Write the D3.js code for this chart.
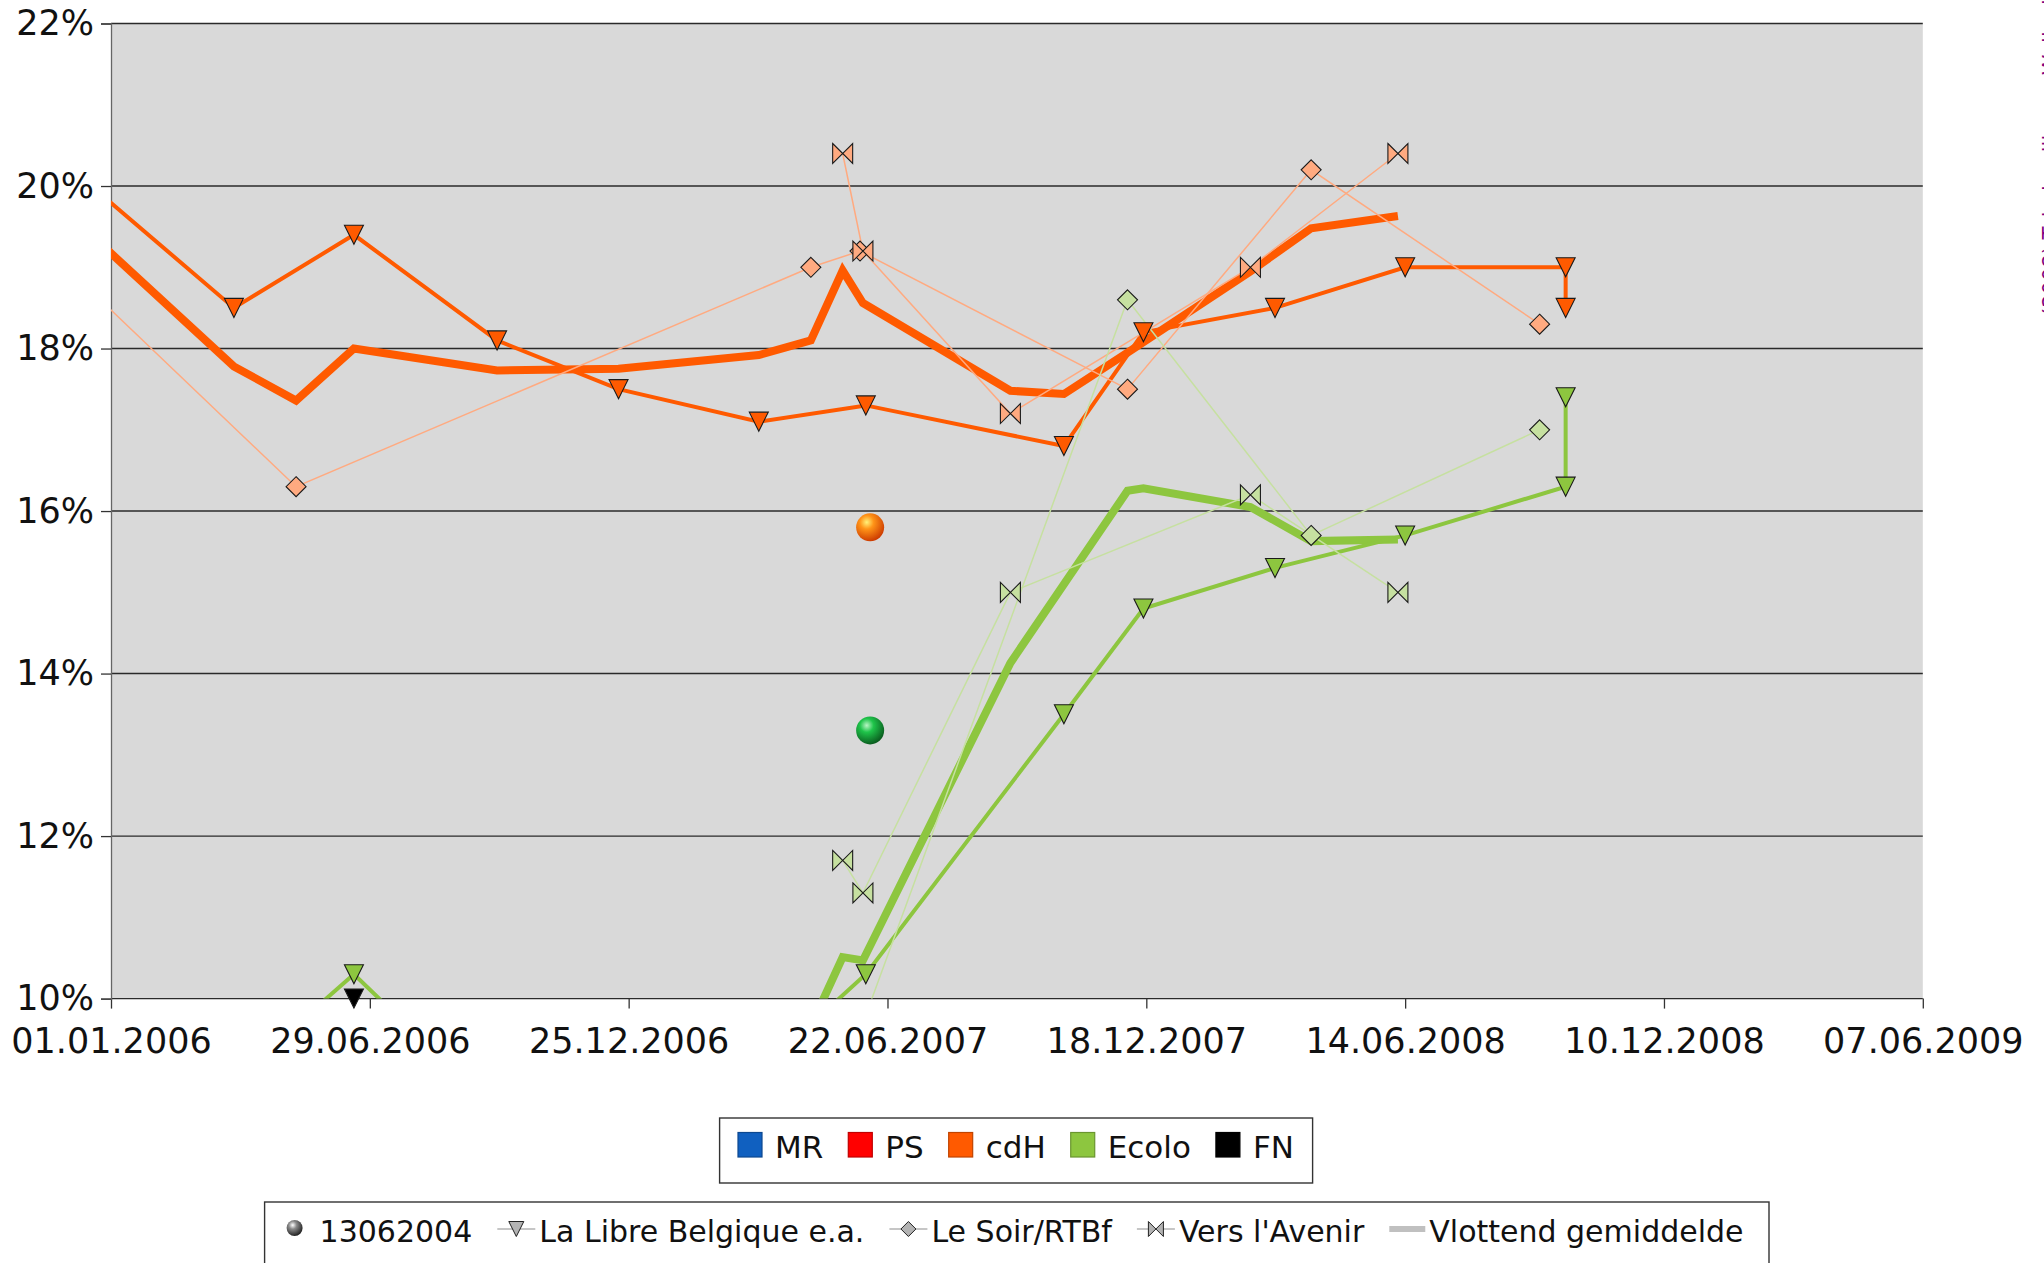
<!DOCTYPE html>
<html><head><meta charset="utf-8">
<script src="https://cdn.jsdelivr.net/npm/d3@7"></script>
<style>
body{margin:0;background:#fff}
svg{display:block}
text{font-family:"DejaVu Sans",sans-serif;fill:#111}
</style>
</head><body>
<svg id="chart" width="2044" height="1263"></svg>
<script>
// ---------- data ----------
const tickLabels = ["01.01.2006","29.06.2006","25.12.2006","22.06.2007","18.12.2007","14.06.2008","10.12.2008","07.06.2009"];
const yTickValues = [10,12,14,16,18,20,22];
const parties = ["MR","PS","cdH","Ecolo","FN"];
const sourceLabels = ["13062004","La Libre Belgique e.a.","Le Soir/RTBf","Vers l'Avenir","Vlottend gemiddelde"];

// La Libre Belgique e.a.
const libreDates = ["2005-11-22","2006-03-27","2006-06-18","2006-09-25","2006-12-18","2007-03-25","2007-06-07","2007-10-22","2007-12-16","2008-03-16","2008-06-14","2008-10-03","2008-10-03"];
const libreCdH   = [20.4,18.5,19.4,18.1,17.5,17.1,17.3,16.8,18.2,18.5,19.0,19.0,18.5];
const libreEcolo = [8.5,9.0,10.3,8.6,8.5,9.1,10.3,13.5,14.8,15.3,15.7,16.3,17.4];
const libreFNDates = ["2006-06-18"];
const libreFN      = [10.0];

// Le Soir/RTBf
const soirDates = ["2005-12-01","2006-05-09","2007-04-30","2007-06-03","2007-12-05","2008-04-10","2008-09-15"];
const soirCdH   = [19.0,16.3,19.0,19.2,17.5,20.2,18.3];
const soirEcolo = [8.5,8.7,9.0,9.6,18.6,15.7,17.0];

// Vers l'Avenir
const avenirDates = ["2007-05-22","2007-06-05","2007-09-15","2008-02-28","2008-06-09"];
const avenirCdH   = [20.4,19.2,17.2,19.0,20.4];
const avenirEcolo = [11.7,11.3,15.0,16.2,15.0];

// Vlottend gemiddelde
const avgCdHDates = ["2005-12-12","2006-03-27","2006-05-09","2006-06-18","2006-09-25","2006-12-18","2007-03-25","2007-04-30","2007-05-22","2007-06-05","2007-09-15","2007-10-22","2007-12-05","2008-02-28","2008-04-10","2008-06-09"];
const avgCdH      = [19.5,17.78,17.36,18.0,17.73,17.75,17.92,18.1,18.96,18.56,17.48,17.44,17.95,18.95,19.48,19.63];
const avgEcoloDates = ["2007-04-30","2007-05-22","2007-06-05","2007-09-15","2007-10-22","2007-12-05","2007-12-16","2008-02-28","2008-04-10","2008-06-09"];
const avgEcolo      = [9.66,10.51,10.47,14.13,15.1,16.25,16.28,16.05,15.63,15.65];

// 13062004
const electionDates = ["2007-06-10"];
const electionCdH   = [15.8];
const electionEcolo = [13.3];

const sideNote = "(2008) Tabel peilingen Wallonië";

// ---------- style ----------
const partyColor = {MR:"#1060c0", PS:"#ff0000", cdH:"#ff5a00", Ecolo:"#8dc63f", FN:"#000000"};
const lightColor = {cdH:"#ffaa80", Ecolo:"#c6e0a0"};
const FONT_AXIS = 35, FONT_LEG1 = 31, FONT_LEG2 = 30;

const svg = d3.select("#chart");
const P = {left:111, right:1922.8, top:23.5, bottom:998.6};
const parseTick = d3.utcParse("%d.%m.%Y"), parseISO = d3.utcParse("%Y-%m-%d");
const tickDates = tickLabels.map(parseTick);

const x = d3.scaleUtc().domain([tickDates[0], tickDates[tickDates.length-1]]).range([P.left, P.right]);
const y = d3.scaleLinear().domain([10,22]).range([P.bottom, P.top]);

const zip = (ds, vs) => ds.map((d,i)=>({date:parseISO(d), v:vs[i]}));

// defs
const defs = svg.append("defs");
defs.append("clipPath").attr("id","plotclip").append("rect")
  .attr("x",P.left).attr("y",P.top).attr("width",P.right-P.left).attr("height",P.bottom-P.top);
function sphereGrad(id, c0, c1, c2){
  const g = defs.append("radialGradient").attr("id",id).attr("cx","38%").attr("cy","32%").attr("r","70%");
  g.append("stop").attr("offset","0%").attr("stop-color",c0);
  g.append("stop").attr("offset","35%").attr("stop-color",c1);
  g.append("stop").attr("offset","100%").attr("stop-color",c2);
}
sphereGrad("gOrange","#fff27a","#ff9418","#cc3a00");
sphereGrad("gGreen","#b8f5c4","#1fc44a","#0a5a1e");
sphereGrad("gGray","#ffffff","#8a8a8a","#1e1e1e");

// plot background
svg.append("rect").attr("x",P.left).attr("y",P.top).attr("width",P.right-P.left).attr("height",P.bottom-P.top).attr("fill","#d9d9d9");

// gridlines
svg.append("g").selectAll("line").data(yTickValues).join("line")
  .attr("x1",P.left).attr("x2",P.right).attr("y1",d=>y(d)).attr("y2",d=>y(d))
  .attr("stroke","#2a2a2a").attr("stroke-width",1.4);

// axes
const gx = svg.append("g").attr("transform",`translate(0,${P.bottom})`)
  .call(d3.axisBottom(x).tickValues(tickDates).tickFormat(d3.utcFormat("%d.%m.%Y")).tickSize(10).tickPadding(20));
gx.select(".domain").remove();
gx.selectAll(".tick line").attr("stroke","#333").attr("stroke-width",1.3);
gx.selectAll(".tick text").attr("font-size",FONT_AXIS).attr("font-family","DejaVu Sans").attr("fill","#111");

const gy = svg.append("g").attr("transform",`translate(${P.left},0)`)
  .call(d3.axisLeft(y).tickValues(yTickValues).tickFormat(d=>d+"%").tickSize(10).tickPadding(7));
gy.select(".domain").attr("stroke","#666").attr("stroke-width",1.3);
gy.selectAll(".tick line").attr("stroke","#333").attr("stroke-width",1.3);
gy.selectAll(".tick text").attr("font-size",FONT_AXIS).attr("font-family","DejaVu Sans").attr("fill","#111");

// markers
const S = 19;
const shapes = {
  tri: s=>`M${-s/2},${-s/2}L${s/2},${-s/2}L0,${s/2}Z`,
  diamond: s=>`M0,${-s/2}L${s/2},0L0,${s/2}L${-s/2},0Z`,
  bowtie: s=>`M${-s/2},${-s/2}L${s/2},${s/2}L${s/2},${-s/2}L${-s/2},${s/2}Z`
};

const line = d3.line().x(d=>x(d.date)).y(d=>y(d.v));
const linesG = svg.append("g").attr("clip-path","url(#plotclip)");
const markG = svg.append("g");

function drawLine(data, color, width){
  linesG.append("path").datum(data).attr("d",line).attr("fill","none")
    .attr("stroke",color).attr("stroke-width",width).attr("stroke-linejoin","miter");
}
function drawMarkers(data, shape, fill, size){
  const vis = data.filter(d=>d.date>=x.domain()[0] && d.date<=x.domain()[1] && d.v>=10 && d.v<=22);
  markG.append("g").selectAll("path").data(vis).join("path")
    .attr("d",shapes[shape](size))
    .attr("transform",d=>`translate(${x(d.date)},${y(d.v)})`)
    .attr("fill",fill).attr("stroke","#1a1a1a").attr("stroke-width",1.1);
}

const libreC = zip(libreDates, libreCdH), libreE = zip(libreDates, libreEcolo), libreF = zip(libreFNDates, libreFN);
const soirC = zip(soirDates, soirCdH), soirE = zip(soirDates, soirEcolo);
const aveC = zip(avenirDates, avenirCdH), aveE = zip(avenirDates, avenirEcolo);
const avgC = zip(avgCdHDates, avgCdH), avgE = zip(avgEcoloDates, avgEcolo);

// thick moving averages
drawLine(avgC, partyColor.cdH, 8);
drawLine(avgE, partyColor.Ecolo, 8);
// La Libre
drawLine(libreC, partyColor.cdH, 4);
drawLine(libreE, partyColor.Ecolo, 4);
// thin lines
drawLine(soirC, lightColor.cdH, 1.5);
drawLine(aveC, lightColor.cdH, 1.5);
drawLine(soirE, lightColor.Ecolo, 1.5);
drawLine(aveE, lightColor.Ecolo, 1.5);

drawMarkers(soirC, "diamond", lightColor.cdH, 20);
drawMarkers(soirE, "diamond", lightColor.Ecolo, 20);
drawMarkers(aveC, "bowtie", lightColor.cdH, 20);
drawMarkers(aveE, "bowtie", lightColor.Ecolo, 20);
drawMarkers(libreC, "tri", partyColor.cdH, S);
drawMarkers(libreE, "tri", partyColor.Ecolo, S);
drawMarkers(libreF, "tri", partyColor.FN, S);

// election spheres
const elC = zip(electionDates, electionCdH), elE = zip(electionDates, electionEcolo);
markG.append("g").selectAll("circle").data(elC).join("circle")
  .attr("cx",d=>x(d.date)).attr("cy",d=>y(d.v)).attr("r",14).attr("fill","url(#gOrange)");
markG.append("g").selectAll("circle").data(elE).join("circle")
  .attr("cx",d=>x(d.date)).attr("cy",d=>y(d.v)).attr("r",14).attr("fill","url(#gGreen)");

// ---------- legend 1 (parties) ----------
const L1 = svg.append("g");
L1.append("rect").attr("x",719.6).attr("y",1118).attr("width",593).attr("height",65)
  .attr("fill","#fff").attr("stroke","#333").attr("stroke-width",1.4);
let lx = 738;
parties.forEach(p=>{
  L1.append("rect").attr("x",lx).attr("y",1132.5).attr("width",24).attr("height",24.5)
    .attr("fill",partyColor[p]).attr("stroke",d3.color(partyColor[p]).darker(0.8)).attr("stroke-width",1.2);
  const t = L1.append("text").attr("x",lx+37).attr("y",1157.5).attr("font-size",FONT_LEG1).text(p);
  lx = lx + 37 + t.node().getComputedTextLength() + 25;
});

// ---------- legend 2 (sources) ----------
const L2 = svg.append("g");
L2.append("rect").attr("x",264.6).attr("y",1202).attr("width",1504.4).attr("height",90)
  .attr("fill","#fff").attr("stroke","#333").attr("stroke-width",1.4);
const ly = 1229, lb = 1241.5;
let x2 = 294.6;
L2.append("circle").attr("cx",x2).attr("cy",ly-1).attr("r",8).attr("fill","url(#gGray)");
let t2 = L2.append("text").attr("x",x2+25).attr("y",lb).attr("font-size",FONT_LEG2).text(sourceLabels[0]);
x2 = x2 + 25 + t2.node().getComputedTextLength() + 25;
const legShapes = ["tri","diamond","bowtie"];
legShapes.forEach((sh,i)=>{
  L2.append("line").attr("x1",x2).attr("x2",x2+38).attr("y1",ly).attr("y2",ly)
    .attr("stroke","#b3b3b3").attr("stroke-width",1.5);
  L2.append("path").attr("d",shapes[sh](15)).attr("transform",`translate(${x2+19},${ly})`)
    .attr("fill","#b3b3b3").attr("stroke","#222").attr("stroke-width",1);
  const t = L2.append("text").attr("x",x2+42).attr("y",lb).attr("font-size",FONT_LEG2).text(sourceLabels[i+1]);
  x2 = x2 + 42 + t.node().getComputedTextLength() + 25;
});
L2.append("line").attr("x1",x2).attr("x2",x2+36).attr("y1",ly).attr("y2",ly)
  .attr("stroke","#c0c0c0").attr("stroke-width",6);
L2.append("text").attr("x",x2+40).attr("y",lb).attr("font-size",FONT_LEG2).text(sourceLabels[4]);

// side note (cut off at right edge, as in the original)
svg.append("text").attr("transform","translate(2058,316) rotate(-90)")
  .attr("font-size",21).style("fill","#800080").text(sideNote);
</script>
</body></html>
